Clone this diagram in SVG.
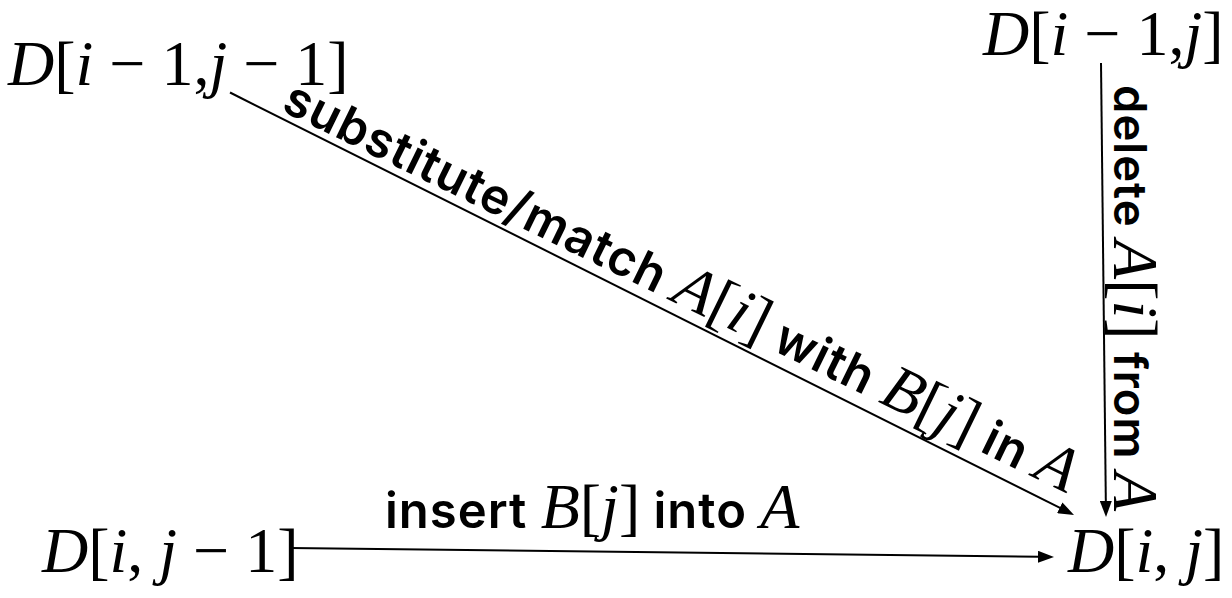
<svg xmlns="http://www.w3.org/2000/svg" width="1232" height="598" viewBox="0 0 1232 598">
<style>
.mt{font-family:"Liberation Serif","Times New Roman",serif;font-size:64px;fill:#000}
.it{font-style:italic}
.lb{font-family:Inter,"Liberation Sans",Arial,sans-serif;font-weight:600;font-size:49px;letter-spacing:1px;fill:#000}
.lm{font-family:"Liberation Serif","Times New Roman",serif;font-size:64px;fill:#000;font-weight:normal;letter-spacing:0}
.edge{stroke:#000;stroke-width:2;fill:none;marker-end:url(#ah)}
</style>
<defs>
<marker id="ah" markerUnits="userSpaceOnUse" markerWidth="16" markerHeight="12" refX="2" refY="6" orient="auto">
<path d="M0,0 L16,6 L0,12 z" fill="#000"/>
</marker>
</defs>
<rect width="1232" height="598" fill="#fff"/>
<g id="connectors">
<line class="edge" x1="230" y1="92.5" x2="1061.5" y2="508.7"/>
<line class="edge" x1="1101" y1="63" x2="1105.85" y2="503"/>
<line class="edge" x1="290" y1="548" x2="1040" y2="556.8"/>
<g id="label-substitute" transform="translate(280,110) rotate(26)">
<text class="lb" x="0" y="0" xml:space="preserve">substitute/match <tspan class="lm it">A</tspan><tspan class="lm">[</tspan><tspan class="lm it">i</tspan><tspan class="lm">]</tspan> with <tspan class="lm it">B</tspan><tspan class="lm">[</tspan><tspan class="lm it">j</tspan><tspan class="lm">]</tspan> in <tspan class="lm it">A</tspan></text>
</g>
<g id="label-delete" transform="translate(1114,85) rotate(90)">
<text class="lb" x="0" y="0" style="font-size:45.5px" xml:space="preserve">delete <tspan class="lm it">A</tspan><tspan class="lm">[</tspan><tspan class="lm it">i</tspan><tspan class="lm">]</tspan> from <tspan class="lm it">A</tspan></text>
</g>
<g id="label-insert">
<text class="lb" x="385" y="528" xml:space="preserve">insert <tspan class="lm it">B</tspan><tspan class="lm">[</tspan><tspan class="lm it">j</tspan><tspan class="lm">]</tspan> into <tspan class="lm it">A</tspan></text>
</g>
</g>
<g id="node-d-im1-jm1">
<text class="mt" x="8" y="85" xml:space="preserve"><tspan class="it">D</tspan>[<tspan class="it">i</tspan> − 1,<tspan class="it">j</tspan> − 1]</text>
</g>
<g id="node-d-im1-j">
<text class="mt" x="983" y="55" xml:space="preserve"><tspan class="it">D</tspan>[<tspan class="it">i</tspan> − 1,<tspan class="it">j</tspan>]</text>
</g>
<g id="node-d-i-jm1">
<text class="mt" x="42" y="572" xml:space="preserve"><tspan class="it">D</tspan>[<tspan class="it">i</tspan>, <tspan class="it">j</tspan> − 1]</text>
</g>
<g id="node-d-i-j">
<text class="mt" x="1068" y="572" xml:space="preserve"><tspan class="it">D</tspan>[<tspan class="it">i</tspan>, <tspan class="it">j</tspan>]</text>
</g>
</svg>
